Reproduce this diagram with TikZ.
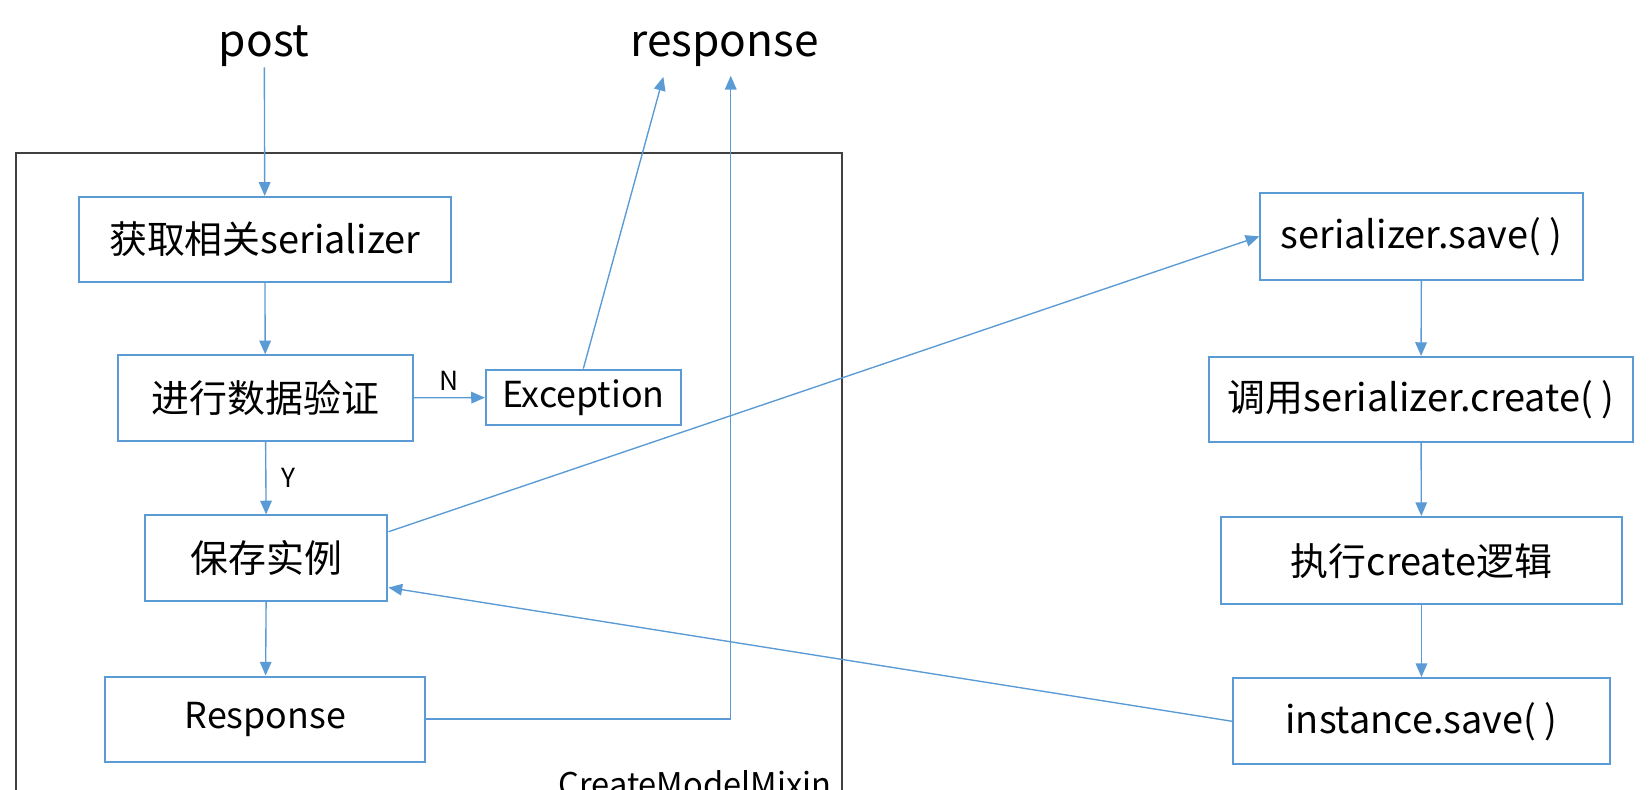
\documentclass[tikz,border=0pt]{standalone}
\usepackage{fontspec}
\setmainfont{Noto Sans CJK SC}
\usetikzlibrary{arrows.meta}
\definecolor{boxblue}{HTML}{5B9BD5}
\definecolor{framegray}{HTML}{404040}
\begin{document}
\begin{tikzpicture}
  [x=0.5pt,y=-0.5pt,
   box/.style={draw=boxblue, line width=0.95pt, inner sep=0pt, minimum height=40.5pt, font=\fontsize{18}{20}\selectfont},
   term/.style={inner sep=0pt, font=\fontsize{21}{24}\selectfont},
   tag/.style={inner sep=0pt, font=\fontsize{12.5}{14}\selectfont},
   flow/.style={draw=boxblue, line width=0.65pt, -{Triangle[length=6.5pt,width=5.5pt]}}]
  \useasboundingbox (0,0) rectangle (1568,750);
  \draw[framegray, line width=1pt] (15,780) -- (15,145) -- (800,145) -- (800,780);

  \node[term, anchor=base] (post) at (251,54) {post};
  \node[term, anchor=base] (resp) at (688,54) {response};
  \coordinate (r1) at (630,73);
  \coordinate (r2) at (694,72);

  \node[box, minimum width=176.5pt] (n1) at (251.5,227.5) {获取相关serializer};
  \node[box, minimum width=140pt] (n2) at (252,378) {进行数据验证};
  \node[box, minimum width=92.5pt, minimum height=26.5pt, font=\fontsize{17}{20}\selectfont] (n3) at (554,377.5) {Exception};
  \node[box, minimum width=115pt] (n4) at (253,530) {保存实例};
  \node[box, minimum width=152pt, font=\fontsize{17}{20}\selectfont] (n5) at (252,683) {Response};
  \node[tag, anchor=north east, font=\fontsize{15.5}{18}\selectfont] (mixin) at (790,731) {CreateModelMixin};

  \node[box, minimum width=153pt, minimum height=41.5pt] (m1) at (1350,224.5) {serializer.save(\ )};
  \node[box, minimum width=201.5pt] (m2) at (1349.5,379.5) {调用serializer.create(\ )};
  \node[box, minimum width=190pt, minimum height=41.5pt] (m3) at (1350,532.5) {执行create逻辑};
  \node[box, minimum width=179pt, minimum height=41pt] (m4) at (1350,685) {instance.save(\ )};

  \foreach \from/\to in {post/n1, n1/n2, n4/n5, m1/m2, m2/m3, m3/m4}
    \draw[flow] (\from) -- (\to);
  \draw[flow] (n2) -- node[tag, above=3pt] {N} (n3);
  \draw[flow] (n2) -- node[tag, right=7pt] {Y} (n4);
  \draw[flow] (n3.north) -- (r1);
  \draw[flow] (n5) -| (r2);
  \draw[flow] ([yshift=12.5pt]n4.east) -- (m1.west);
  \draw[flow] (m4.west) -- ([yshift=-14pt]n4.east);
\end{tikzpicture}
\end{document}
